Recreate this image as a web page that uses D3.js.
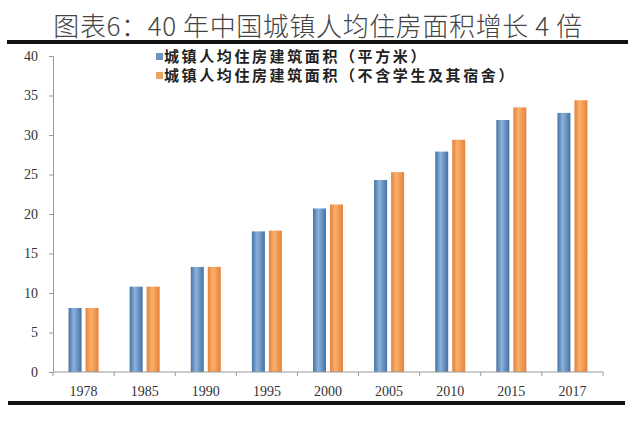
<!DOCTYPE html>
<html>
<head>
<meta charset="utf-8">
<script src="https://cdn.jsdelivr.net/npm/d3@7"></script>
<style>
  body { margin: 0; background: #fff; }
  svg { display: block; }
</style>
</head>
<body>
<svg id="chart" width="640" height="421"></svg>
<script>
// data
const years = ['1978', '1985', '1990', '1995', '2000', '2005', '2010', '2015', '2017'];
const areaAll = [8.1, 10.8, 13.3, 17.8, 20.7, 24.3, 27.9, 31.9, 32.8];
const areaNoStudents = [8.1, 10.8, 13.3, 17.9, 21.2, 25.3, 29.4, 33.5, 34.4];
const seriesNames = ['城镇人均住房建筑面积（平方米）', '城镇人均住房建筑面积（不含学生及其宿舍）'];
const yTicks = [0, 5, 10, 15, 20, 25, 30, 35, 40];

const svg = d3.select('#chart');
const plot = {left: 53, right: 603, top: 56, bottom: 372};

// gradients so bars look like the excel ones
const defs = svg.append('defs');
function grad(id, edge, mid) {
  let g = defs.append('linearGradient').attr('id', id).attr('x1', 0).attr('x2', 1).attr('y1', 0).attr('y2', 0);
  g.append('stop').attr('offset', '0%').attr('stop-color', edge);
  g.append('stop').attr('offset', '40%').attr('stop-color', mid);
  g.append('stop').attr('offset', '100%').attr('stop-color', edge);
}
grad('gBlue', '#4472a5', '#8cb2dc');
grad('gOrange', '#e5823a', '#fab06c');
const fills = ['url(#gBlue)', 'url(#gOrange)'];
const swatch = ['#6f95bf', '#e7a463'];

// title + rules
svg.append('text')
  .attr('x', 318).attr('y', 36)
  .attr('text-anchor', 'middle')
  .attr('font-family', '"Noto Sans CJK SC", sans-serif')
  .attr('font-weight', 300)
  .attr('font-size', 26)
  .attr('letter-spacing', 0.6)
  .attr('fill', '#444')
  .text('图表6：40 年中国城镇人均住房面积增长 4 倍');

svg.append('rect').attr('x', 7).attr('y', 40).attr('width', 621).attr('height', 4).attr('fill', '#111');
svg.append('rect').attr('x', 8).attr('y', 401).attr('width', 617).attr('height', 4).attr('fill', '#111');

const x = d3.scaleBand().domain(years).range([plot.left, plot.right]).paddingInner(0).paddingOuter(0);
const step = 17, barW = 13;
const po = (x.bandwidth() / step - 2 + (step - barW) / step) / 2;
const x1 = d3.scaleBand().domain([0, 1]).range([0, x.bandwidth()]).paddingInner((step - barW) / step).paddingOuter(po);
const y = d3.scaleLinear().domain([0, 40]).range([plot.bottom, plot.top]);

// y axis
const yAxis = svg.append('g')
  .attr('transform', `translate(${plot.left},0)`)
  .call(d3.axisLeft(y).tickValues(yTicks).tickSize(4).tickPadding(11));
yAxis.select('.domain').attr('stroke', '#999');
yAxis.selectAll('.tick line').attr('stroke', '#999');
yAxis.selectAll('.tick text')
  .attr('font-family', '"Liberation Serif", serif')
  .attr('font-size', 14)
  .attr('fill', '#333');

// bars
const series = [areaAll, areaNoStudents];
const g = svg.append('g');
years.forEach((yr, i) => {
  series.forEach((vals, s) => {
    g.append('rect')
      .attr('x', x(yr) + x1(s))
      .attr('y', y(vals[i]))
      .attr('width', x1.bandwidth())
      .attr('height', y(0) - y(vals[i]))
      .attr('fill', fills[s]);
  });
});

// x axis: ticks at category boundaries
const xAxis = svg.append('g').attr('transform', `translate(0,${plot.bottom})`);
xAxis.append('line')
  .attr('x1', plot.left).attr('x2', plot.right)
  .attr('stroke', '#999');
const bounds = years.map(d => x(d)).concat([plot.right]);
xAxis.selectAll('line.tk').data(bounds).join('line')
  .attr('class', 'tk')
  .attr('x1', d => d).attr('x2', d => d)
  .attr('y1', 0).attr('y2', 4)
  .attr('stroke', '#999');
xAxis.selectAll('text').data(years).join('text')
  .attr('x', d => x(d) + x.bandwidth() / 2)
  .attr('y', 24)
  .attr('text-anchor', 'middle')
  .attr('font-family', '"Liberation Serif", serif')
  .attr('font-size', 14)
  .attr('fill', '#333')
  .text(d => d);

// legend
const legend = svg.append('g').attr('transform', 'translate(156,0)');
seriesNames.forEach((name, s) => {
  let ly = 57 + s * 19;
  legend.append('rect')
    .attr('x', 0).attr('y', ly - 4)
    .attr('width', 7).attr('height', 7)
    .attr('fill', swatch[s]);
  legend.append('text')
    .attr('x', 8).attr('y', ly + 5)
    .attr('font-family', '"Noto Sans CJK SC", sans-serif')
    .attr('font-size', 15)
    .attr('font-weight', 'bold')
    .attr('letter-spacing', 2.6)
    .attr('fill', '#222')
    .text(name);
});
</script>
</body>
</html>
